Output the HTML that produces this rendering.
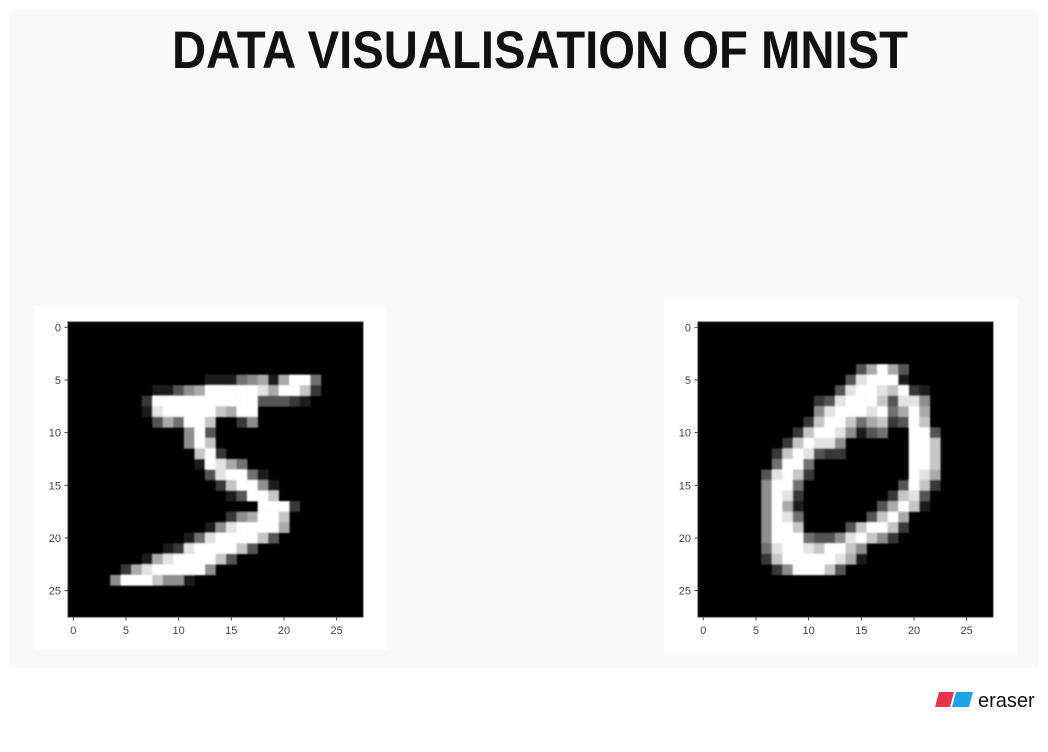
<!DOCTYPE html>
<html><head><meta charset="utf-8">
<style>
html,body{margin:0;padding:0;background:#fff;}
body{width:1048px;height:752px;position:relative;overflow:hidden;font-family:"Liberation Sans",sans-serif;}
#slide{position:absolute;left:10px;top:10px;width:1028px;height:658px;background:#f9f9f9;}
.panel{position:absolute;background:#fff;}
#logo{position:absolute;left:934px;top:688px;}
</style></head>
<body>
<div id="slide"></div>
<svg width="1048" height="90" style="position:absolute;left:0;top:0">
<text x="172" y="68" textLength="736" lengthAdjust="spacingAndGlyphs" font-family="Liberation Sans, sans-serif" font-weight="bold" font-size="53" fill="#111">DATA VISUALISATION OF MNIST</text>
</svg>
<div class="panel" style="left:35px;top:305px;width:352px;height:345px;"></div>
<div class="panel" style="left:664px;top:298px;width:354px;height:357px;"></div>
<svg width="1048" height="752" style="position:absolute;left:0;top:0" id="charts"></svg>
<div id="logo">
<svg width="110" height="26">
<polygon points="5,4 20,4 16,19 1,19" fill="#e8334a"/>
<polygon points="22,4 39,4 35,19 18,19" fill="#1aa3e8"/>
<text x="44" y="19" font-family="Liberation Sans, sans-serif" font-size="20" fill="#111">eraser</text>
</svg>
</div>
<script>
const ticks = [0, 5, 10, 15, 20, 25];
const tickLabels = ["0", "5", "10", "15", "20", "25"];
// [row, startCol, intensities 0-9]
const digitFive = [
[5,12,"011145616994"],[6,8,"1135699999869972"],[7,7,"2999999999933321"],
[8,7,"18999997699"],[9,8,"3649970025"],[10,9,"00593"],[11,11,"5970"],
[12,11,"0792"],[13,12,"198640"],[14,13,"389941"],[15,14,"279951"],
[16,15,"13997"],[17,18,"9992"],[18,15,"2569970"],[19,13,"15899996"],
[20,11,"148999973"],[21,9,"1289999730"],[22,7,"1689999730"],
[23,5,"2689999950"],[24,4,"59997551"]
];
const digitZero = [
[4,15,"36963"],[5,14,"389991"],[6,13,"389987921"],[7,11,"23899973885"],
[8,11,"58999894696"],[9,10,"279974672397"],[10,9,"27998513400993"],
[11,8,"279885000000997"],[12,7,"2798322000000997"],[13,7,"4994000000000997"],
[14,6,"38972000000000986"],[15,6,"59940000000003972"],[16,6,"5982000000002783"],
[17,6,"5961000000036971"],[18,6,"59840000003796"],[19,6,"59970000379972"],
[20,6,"5999433589752"],[21,6,"4899879975"],[22,6,"2799999861"],[23,7,"2599973"]
];
const NS = "http://www.w3.org/2000/svg";
const svg = document.getElementById('charts');
function mk(tag, attrs){const e=document.createElementNS(NS,tag);for(const k in attrs)e.setAttribute(k,attrs[k]);return e;}
function drawChart(x0, y0, size, data, name){
  const cell = size/28;
  const xs = v => x0 + (v+0.5)*cell;
  const ys = v => y0 + (v+0.5)*cell;
  const g = mk('g', {});
  
  
  svg.appendChild(g);
  const bg = mk('rect', {x:x0, y:y0, width:size, height:size, fill:'#000', stroke:'#333', 'stroke-width':1});
  
  
  g.appendChild(bg);
  const cells = mk('g', {filter:'url(#blur)'});
  g.appendChild(cells);
  data.forEach(([r, c0, s]) => {
    for (let i = 0; i < s.length; i++) {
      const v = +s[i];
      if (!v) continue;
      const gv = Math.round(v/9*255);
      const rc = mk('rect', {x:xs(c0+i)-cell/2, y:ys(r)-cell/2, width:cell+0.3, height:cell+0.3, fill:`rgb(${gv},${gv},${gv})`});
      
      
      cells.appendChild(rc);
    }
  });
  ticks.forEach((t, i) => {
    const xt = mk('line', {x1:xs(t), x2:xs(t), y1:y0+size, y2:y0+size+3.5, stroke:'#444', 'stroke-width':1});
    
    
    g.appendChild(xt);
    const xl = mk('text', {x:xs(t), y:y0+size+17, 'text-anchor':'middle', 'font-size':11, fill:'#444', 'font-family':'Liberation Sans, sans-serif'});
    xl.textContent = tickLabels[i];
    
    
    g.appendChild(xl);
    const yt = mk('line', {x1:x0-3.5, x2:x0, y1:ys(t), y2:ys(t), stroke:'#444', 'stroke-width':1});
    
    
    g.appendChild(yt);
    const yl = mk('text', {x:x0-7, y:ys(t)+4, 'text-anchor':'end', 'font-size':11, fill:'#444', 'font-family':'Liberation Sans, sans-serif'});
    yl.textContent = tickLabels[i];
    
    
    g.appendChild(yl);
  });
}
const defs = mk('defs', {});
const f = mk('filter', {id:'blur', x:'-5%', y:'-5%', width:'110%', height:'110%'});
f.appendChild(mk('feGaussianBlur', {stdDeviation:0.8}));
defs.appendChild(f);
svg.appendChild(defs);
drawChart(68, 322, 295, digitFive, 'digit-five-chart');
drawChart(698, 322, 295, digitZero, 'digit-zero-chart');
</script>
</body></html>
